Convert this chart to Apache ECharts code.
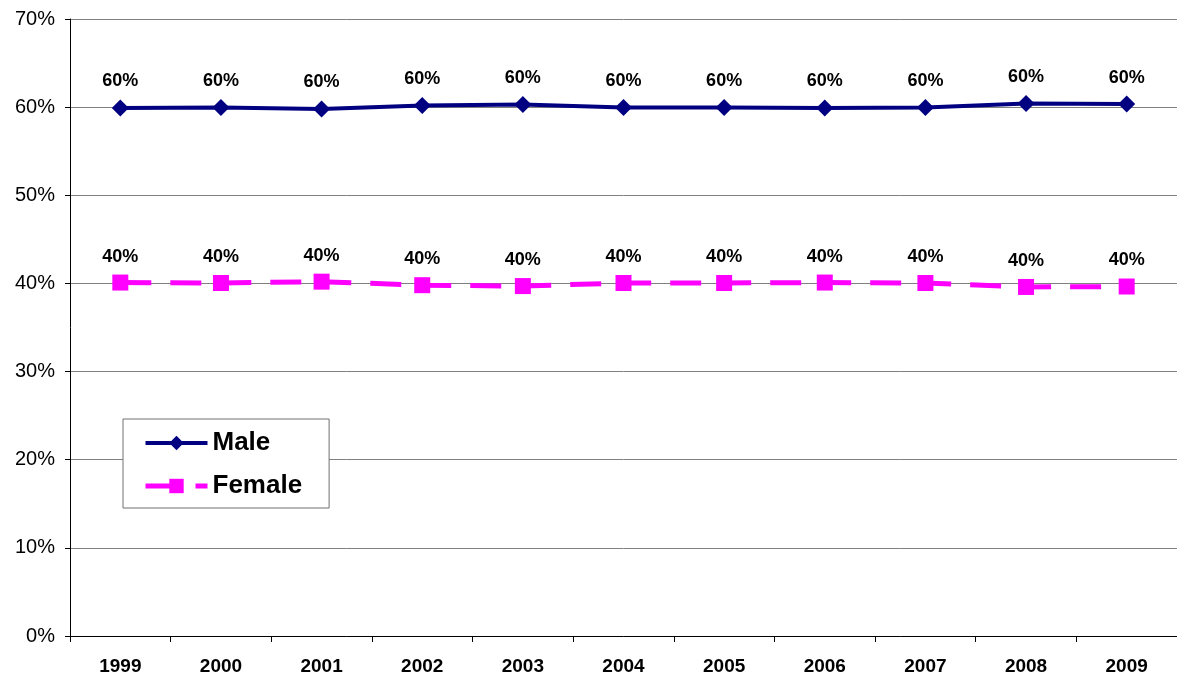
<!DOCTYPE html>
<html>
<head>
<meta charset="utf-8">
<script src="https://cdn.jsdelivr.net/npm/echarts@6/dist/echarts.min.js"></script>
<style>
  html, body { margin: 0; padding: 0; background: #fff; }
  #chart { width: 1177px; height: 680px; }
</style>
</head>
<body>
<div id="chart"></div>
<script>
// Share of male and female, by year
const years = ['1999', '2000', '2001', '2002', '2003', '2004', '2005', '2006', '2007', '2008', '2009'];
const maleShare = [0.599, 0.5995, 0.598, 0.602, 0.603, 0.5995, 0.5995, 0.599, 0.5995, 0.604, 0.6035];
const femaleShare = [0.401, 0.4005, 0.402, 0.398, 0.397, 0.4005, 0.4005, 0.401, 0.4005, 0.396, 0.3965];
const yTicks = { min: 0, max: 0.7, interval: 0.1 };

const fontFamily = 'Liberation Sans, Arial, sans-serif';
const pct = v => Math.round(v * 100) + '%';

const chart = echarts.init(document.getElementById('chart'), null, { renderer: 'canvas' });

const valueLabel = {
  show: true,
  position: 'top',
  distance: 9,
  color: '#000',
  fontSize: 18,
  fontWeight: 'bold',
  fontFamily,
  formatter: p => pct(p.value)
};

chart.setOption({
  backgroundColor: '#ffffff',
  animation: false,
  textStyle: { fontFamily },
  grid: { left: 70, right: 0, top: 19, bottom: 44, containLabel: false },
  legend: {
    orient: 'vertical',
    left: 123,
    top: 419,
    padding: [10, 27, 8, 20],
    itemGap: 15,
    itemWidth: 62,
    itemHeight: 18,
    backgroundColor: '#ffffff',
    borderColor: '#707070',
    borderWidth: 1,
    textStyle: { fontSize: 26, fontWeight: 'bold', color: '#000', fontFamily, lineHeight: 28 },
    data: [
      { name: 'Male', lineStyle: { width: 4 } },
      { name: 'Female', lineStyle: { width: 5 } }
    ]
  },
  xAxis: {
    type: 'category',
    data: years,
    boundaryGap: true,
    axisLine: { show: true, lineStyle: { color: '#000', width: 1 } },
    axisTick: { show: true, alignWithLabel: false, length: 6, lineStyle: { color: '#000' } },
    axisLabel: { color: '#000', fontSize: 19, fontWeight: 'bold', margin: 21, fontFamily },
    splitLine: { show: false }
  },
  yAxis: {
    type: 'value',
    min: yTicks.min,
    max: yTicks.max,
    interval: yTicks.interval,
    axisLine: { show: true, lineStyle: { color: '#000', width: 1 } },
    axisTick: { show: true, length: 5, lineStyle: { color: '#000' } },
    axisLabel: { color: '#000', fontSize: 20, margin: 15, fontFamily, formatter: v => pct(v) },
    splitLine: { show: true, lineStyle: { color: '#808080', width: 1 } }
  },
  series: [
    {
      name: 'Male',
      type: 'line',
      data: maleShare,
      color: '#000080',
      symbol: 'diamond',
      symbolSize: 17,
      lineStyle: { color: '#000080', width: 4 },
      itemStyle: { color: '#000080' },
      label: valueLabel,
      z: 3
    },
    {
      name: 'Female',
      type: 'line',
      data: femaleShare,
      color: '#FF00FF',
      symbol: 'rect',
      symbolSize: 16,
      lineStyle: { color: '#FF00FF', width: 5, type: [31, 19] },
      itemStyle: { color: '#FF00FF' },
      label: valueLabel,
      z: 3
    }
  ]
});
</script>
</body>
</html>
